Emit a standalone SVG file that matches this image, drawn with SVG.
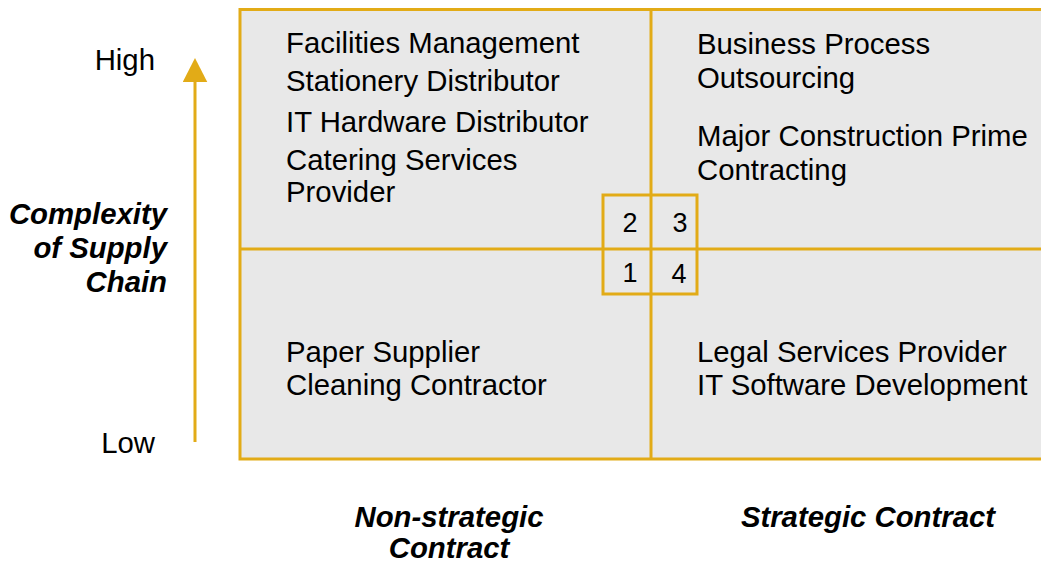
<svg xmlns="http://www.w3.org/2000/svg" width="1041" height="563" viewBox="0 0 1041 563">
<style>
.t{font-family:"Liberation Sans",Arial,sans-serif;font-size:29.33px;fill:#000}
.bi{font-family:"Liberation Sans",Arial,sans-serif;font-size:29.33px;font-weight:bold;font-style:italic;fill:#000}
.n{font-family:"Liberation Sans",Arial,sans-serif;font-size:27px;fill:#000;text-anchor:middle}
.g{stroke:#e2ab17;stroke-width:3;fill:none}
.bg{fill:#e8e8e8;stroke:#e2ab17;stroke-width:3}
</style>
<defs>
<marker id="ah" markerUnits="userSpaceOnUse" markerWidth="24" markerHeight="25" refX="0" refY="12.25" orient="auto">
<path d="M0,0 L24,12.25 L0,24.5 z" fill="#e2ab17"/>
</marker>
</defs>
<rect x="0" y="0" width="1041" height="563" fill="#fff"/>
<g id="matrix">
<rect x="240" y="9.5" width="810" height="449.5" class="bg"/>
<line x1="651" y1="9.5" x2="651" y2="459" class="g"/>
<line x1="240" y1="249" x2="1045" y2="249" class="g"/>
</g>
<g id="quadrant-2">
<text class="t" x="286" y="53">Facilities Management</text>
<text class="t" x="286" y="91">Stationery Distributor</text>
<text class="t" x="286" y="132">IT Hardware Distributor</text>
<text class="t" x="286" y="170">Catering Services</text>
<text class="t" x="286" y="202">Provider</text>
</g>
<g id="quadrant-3">
<text class="t" x="697" y="54">Business Process</text>
<text class="t" x="697" y="88">Outsourcing</text>
<text class="t" x="697" y="146">Major Construction Prime</text>
<text class="t" x="697" y="180">Contracting</text>
</g>
<g id="quadrant-1">
<text class="t" x="286" y="362">Paper Supplier</text>
<text class="t" x="286" y="395">Cleaning Contractor</text>
</g>
<g id="quadrant-4">
<text class="t" x="697" y="362">Legal Services Provider</text>
<text class="t" x="697" y="395">IT Software Development</text>
</g>
<g id="key">
<rect x="603" y="195" width="94" height="99" class="g"/>
<text class="n" x="630" y="232">2</text>
<text class="n" x="680" y="232">3</text>
<text class="n" x="630" y="282">1</text>
<text class="n" x="679" y="283">4</text>
</g>
<g id="axis-labels">
<text class="t" x="155" y="70" text-anchor="end">High</text>
<text class="t" x="155" y="453" text-anchor="end">Low</text>
<text class="bi" text-anchor="end"><tspan x="167" y="224">Complexity</tspan><tspan x="167" y="258">of Supply</tspan><tspan x="167" y="292">Chain</tspan></text>
<text class="bi" text-anchor="middle"><tspan x="449" y="527">Non-strategic</tspan><tspan x="449" y="558">Contract</tspan></text>
<text class="bi" x="868" y="527" text-anchor="middle">Strategic Contract</text>
</g>
<g id="connectors">
<line x1="195" y1="442" x2="195" y2="82" stroke="#e2ab17" stroke-width="3" marker-end="url(#ah)"/>
</g>
</svg>
